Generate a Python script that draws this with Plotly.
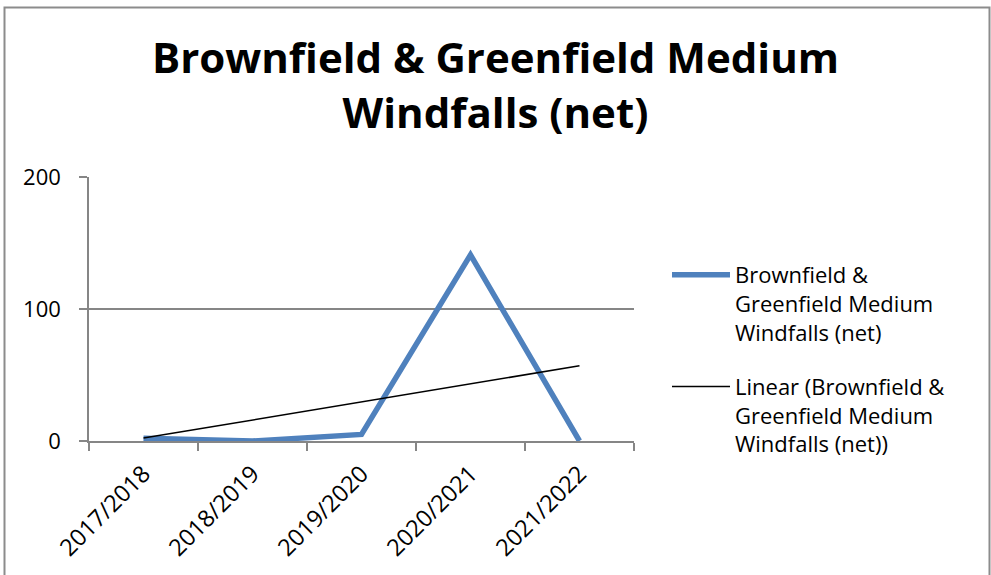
import numpy as np
import plotly.graph_objects as go

categories = ["2017/2018", "2018/2019", "2019/2020", "2020/2021", "2021/2022"]
values = [2, 0, 5, 141, 0]
series_name = "Brownfield &<br>Greenfield Medium<br>Windfalls (net)"
trend_name = "Linear (Brownfield &<br>Greenfield Medium<br>Windfalls (net))"
title_text = "Brownfield & Greenfield Medium<br>Windfalls (net)"
y_ticks = [0, 100, 200]

# linear trendline (least-squares fit like Excel)
idx = np.arange(len(values))
slope, intercept = np.polyfit(idx, values, 1)
trend = slope * idx + intercept

FONT = "Open Sans"
GRID = "#868686"
W, H = 991, 575
L, R, T, B = 89, 357, 177, 134
pw, ph = W - L - R, H - T - B

def px_x(px):
    return (px - L) / pw

def px_y(py):
    return (H - B - py) / ph

fig = go.Figure()
fig.add_trace(go.Scatter(
    x=categories, y=values, mode="lines", name=series_name,
    legendgroup="series",
    line=dict(color="#4F81BD", width=5.5),
))
fig.add_trace(go.Scatter(
    x=categories, y=trend, mode="lines", name=trend_name,
    legendgroup="trend",
    line=dict(color="#000000", width=1.5),
))

fig.update_layout(
    width=W, height=H,
    margin=dict(l=L, r=R, t=T, b=B),
    paper_bgcolor="white", plot_bgcolor="white",
    font=dict(family=FONT, size=22, color="black"),
    title=dict(
        text="<b>" + title_text + "</b>",
        font=dict(family=FONT, size=42, color="black"),
        x=0.5, xanchor="center", xref="container",
        y=1 - 73 / H, yanchor="top", yref="container",
    ),
    showlegend=True,
    legend=dict(
        x=px_x(667), xanchor="left",
        y=px_y(254), yanchor="top",
        font=dict(family=FONT, size=22, color="black"),
        valign="top", tracegroupgap=23, itemwidth=58,
        bgcolor="rgba(0,0,0,0)",
    ),
    xaxis=dict(
        type="category", range=[-0.5, len(categories) - 0.5],
        showline=True, linecolor=GRID, linewidth=1.5,
        ticks="outside", ticklen=8, tickwidth=1.5, tickcolor=GRID,
        tickson="boundaries", tickangle=-45,
        showgrid=False, zeroline=False, ticklabelstandoff=8,
        tickfont=dict(family=FONT, size=23.5, color="black"),
    ),
    yaxis=dict(
        range=[0, 200], tickvals=y_ticks,
        showline=True, linecolor=GRID, linewidth=1.5,
        ticks="outside", ticklen=8, tickwidth=1.5, tickcolor=GRID,
        showgrid=True, gridcolor=GRID, gridwidth=1.5,
        zeroline=False, ticklabelstandoff=14,
        tickfont=dict(family=FONT, size=22, color="black"),
    ),
    shapes=[dict(
        type="rect", xref="paper", yref="paper",
        x0=px_x(4.5), x1=px_x(989.5), y0=px_y(600), y1=px_y(7.5),
        line=dict(color="#8c8c8c", width=2), fillcolor="rgba(0,0,0,0)",
        layer="below",
    )],
)

fig.write_html(
    "out.html",
    config={"displayModeBar": False},
    post_script="document.body.style.margin='0';",
)
